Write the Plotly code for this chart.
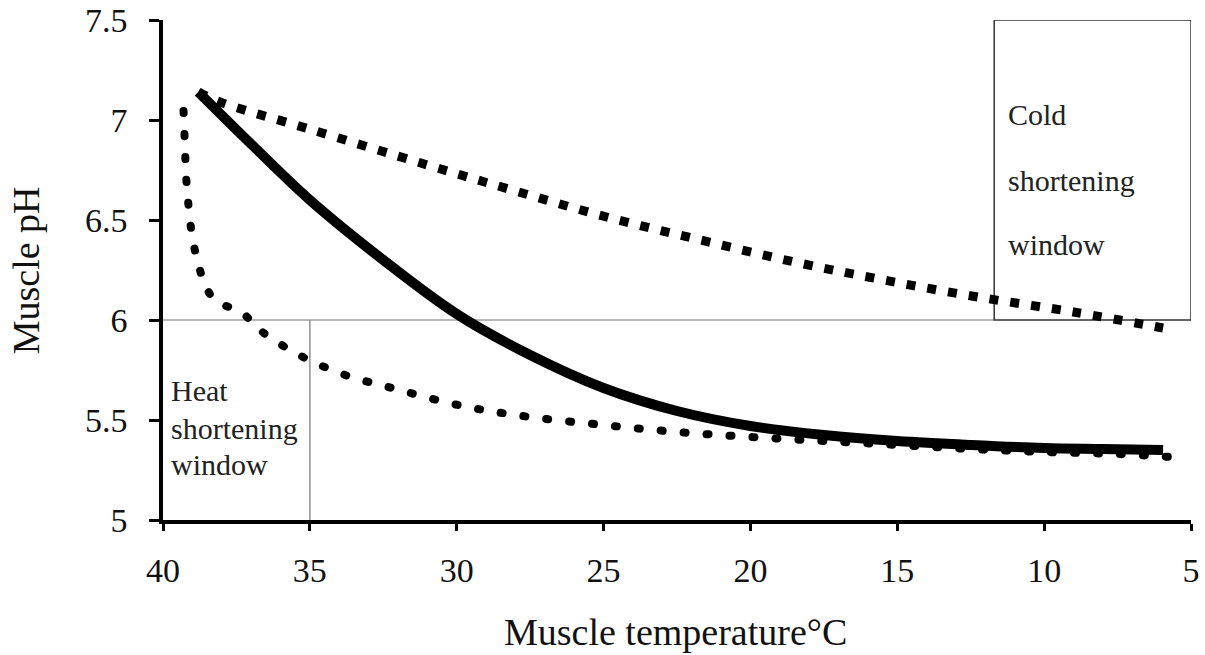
import plotly.graph_objects as go

# Solid curve
solid_t = [38.8, 37.0, 35.0, 32.5, 30.0, 27.5, 25.0, 22.5, 20.0, 17.5, 15.0, 12.5, 10.0, 8.0, 5.95]
solid_ph = [7.14, 6.88, 6.60, 6.30, 6.03, 5.825, 5.66, 5.545, 5.47, 5.425, 5.395, 5.375, 5.36, 5.355, 5.35]

# Square-dashed curve
dash_t = [38.8, 38.06, 35.0, 31.0, 28.0, 24.9, 21.7, 18.5, 15.46, 12.26, 9.0, 5.95]
dash_ph = [7.14, 7.09, 6.954, 6.775, 6.645, 6.515, 6.40, 6.29, 6.20, 6.115, 6.04, 5.96]

# Round-dotted curve
dot_t = [39.3, 39.25, 39.2, 38.9, 38.3, 37.3, 36.66, 35.3, 33.8, 32.2, 29.8, 27.5, 25.0, 22.5, 20.0, 17.5, 15.0, 12.5, 10.0, 7.5, 5.68]
dot_ph = [7.045, 6.86, 6.69, 6.34, 6.11, 6.035, 5.945, 5.82, 5.725, 5.66, 5.57, 5.515, 5.475, 5.44, 5.415, 5.395, 5.375, 5.355, 5.34, 5.33, 5.315]

x_ticks = [40, 35, 30, 25, 20, 15, 10, 5]
y_ticks = [5, 5.5, 6, 6.5, 7, 7.5]
y_tick_text = ["5", "5.5", "6", "6.5", "7", "7.5"]

threshold_ph = 6.0
heat_limit_t = 35
cold_limit_t = 11.7

x_title = "Muscle temperature°C"
y_title = "Muscle pH"
heat_lines = ["Heat", "shortening", "window"]
cold_lines = ["Cold", "shortening", "window"]

FONT = "Liberation Serif"

fig = go.Figure()
fig.add_trace(go.Scatter(x=dot_t, y=dot_ph, mode="lines", line_shape="spline", name="dotted",
                         line=dict(color="black", width=8, dash="2px,21px"),
                         showlegend=False, hoverinfo="skip"))
fig.add_trace(go.Scatter(x=dash_t, y=dash_ph, mode="lines", line_shape="spline",
                         line=dict(color="black", width=9, dash="9px,12px"),
                         showlegend=False, hoverinfo="skip"))
fig.add_trace(go.Scatter(x=solid_t, y=solid_ph, mode="lines", line_shape="spline",
                         line=dict(color="black", width=10),
                         showlegend=False, hoverinfo="skip"))

# reference lines and box
fig.add_shape(type="line", xref="x", yref="y", x0=40, x1=cold_limit_t, y0=threshold_ph, y1=threshold_ph,
              line=dict(color="#a0a0a0", width=1.5), layer="below")
fig.add_shape(type="line", xref="x", yref="y", x0=heat_limit_t, x1=heat_limit_t, y0=5, y1=threshold_ph,
              line=dict(color="#909090", width=1.5), layer="below")
fig.add_shape(type="rect", xref="x", yref="y", x0=cold_limit_t, x1=5, y0=threshold_ph, y1=7.5,
              line=dict(color="#333333", width=1.5), layer="below")

annotations = []
heat_y = [5.65, 5.46, 5.28]
for txt, yy in zip(heat_lines, heat_y):
    annotations.append(dict(x=39.8, y=yy, xref="x", yref="y", text=txt, showarrow=False,
                            xanchor="left", yanchor="middle",
                            font=dict(family=FONT, size=30, color="#222")))
cold_y = [7.03, 6.70, 6.38]
for txt, yy in zip(cold_lines, cold_y):
    annotations.append(dict(x=11.3, y=yy, xref="x", yref="y", text=txt, showarrow=False,
                            xanchor="left", yanchor="middle",
                            font=dict(family=FONT, size=30, color="#222")))
annotations.append(dict(x=0.4985, y=-0.224, xref="paper", yref="paper", text=x_title, showarrow=False,
                        xanchor="center", yanchor="middle", font=dict(family=FONT, size=38, color="#111")))
annotations.append(dict(x=-0.133, y=0.5, xref="paper", yref="paper", text=y_title, showarrow=False,
                        textangle=-90, xanchor="center", yanchor="middle",
                        font=dict(family=FONT, size=38, color="#111")))

fig.update_layout(
    width=1205, height=655,
    margin=dict(l=163, r=14, t=20, b=135, autoexpand=False),
    paper_bgcolor="white", plot_bgcolor="white",
    annotations=annotations,
    xaxis=dict(range=[40, 5], tickvals=x_ticks, showgrid=False, zeroline=False, automargin=False,
               showline=True, linecolor="black", linewidth=3.5,
               ticks="outside", ticklen=7, tickwidth=3, tickcolor="black",
               ticklabelstandoff=10,
               tickfont=dict(family=FONT, size=34, color="#111")),
    yaxis=dict(range=[5, 7.5], tickvals=y_ticks, ticktext=y_tick_text, showgrid=False, zeroline=False,
               automargin=False,
               showline=True, linecolor="black", linewidth=3.5,
               ticks="outside", ticklen=10, tickwidth=3, tickcolor="black",
               ticklabelstandoff=15,
               tickfont=dict(family=FONT, size=34, color="#111")),
)

# give the dotted series round dots (round line caps), as in the reference
post_js = """
var gd = document.getElementById('{plot_id}');
function roundDots() {
  var traces = gd.querySelectorAll('.scatterlayer .trace');
  if (traces.length) {
    traces[0].querySelectorAll('path.js-line').forEach(function(p) {
      p.style.strokeLinecap = 'round';
    });
  }
}
roundDots();
gd.on && gd.on('plotly_afterplot', roundDots);
"""

fig.write_html("out.html", post_script=post_js)
